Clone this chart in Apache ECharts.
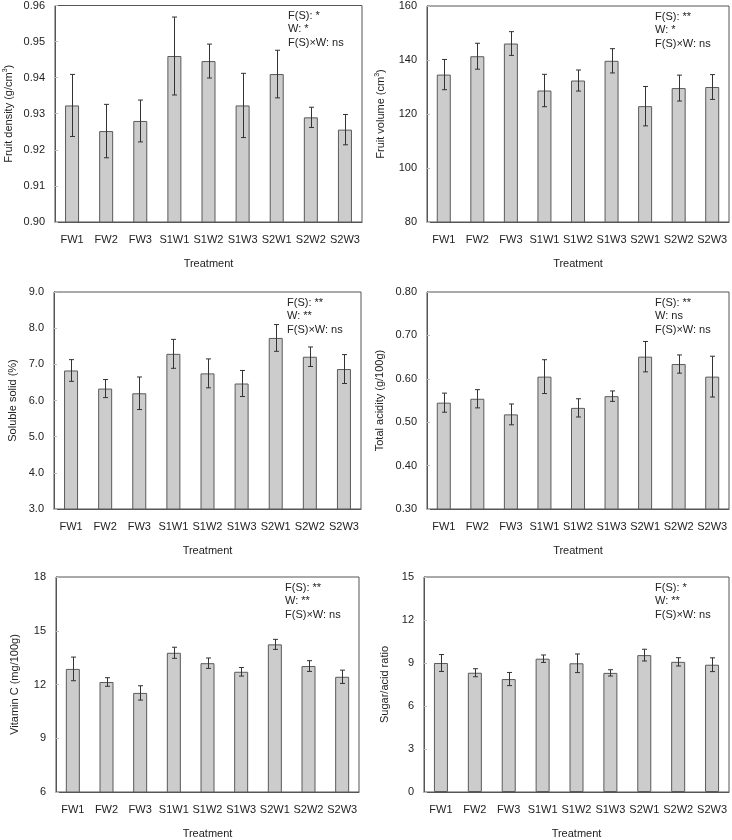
<!DOCTYPE html>
<html>
<head>
<meta charset="utf-8">
<script src="https://cdn.jsdelivr.net/npm/echarts@6/dist/echarts.min.js"></script>
<style>
html,body{margin:0;padding:0;background:#fff;}
#chart{width:732px;height:840px;}
</style>
</head>
<body>
<div id="chart"></div>
<script>
const categories = ['FW1','FW2','FW3','S1W1','S1W2','S1W3','S2W1','S2W2','S2W3'];

const densityMean = [0.9323,0.9252,0.9280,0.9460,0.9446,0.9323,0.9410,0.9290,0.9256];
const densityErr  = [0.0086,0.0074,0.0058,0.0108,0.0047,0.0089,0.0066,0.0028,0.0042];

const volumeMean = [134.6,141.4,146.1,128.7,132.4,139.7,122.9,129.6,130.0];
const volumeErr  = [5.6,4.8,4.4,6.0,3.9,4.5,7.3,4.8,4.6];

const solubleMean = [6.83,6.33,6.20,7.29,6.75,6.47,7.73,7.21,6.87];
const solubleErr  = [0.30,0.25,0.45,0.40,0.40,0.36,0.37,0.27,0.40];

const acidityMean = [0.545,0.554,0.518,0.605,0.533,0.560,0.651,0.634,0.605];
const acidityErr  = [0.022,0.021,0.024,0.039,0.021,0.012,0.035,0.021,0.047];

const vitCMean = [12.87,12.14,11.53,13.77,13.19,12.71,14.24,13.03,12.43];
const vitCErr  = [0.66,0.24,0.40,0.31,0.29,0.24,0.28,0.30,0.37];

const ratioMean = [9.00,8.32,7.88,9.30,8.98,8.31,9.55,9.08,8.88];
const ratioErr  = [0.59,0.28,0.46,0.26,0.65,0.22,0.41,0.29,0.48];

const yTitles = ['Fruit density (g/cm{sup|3})','Fruit volume (cm{sup|3})','Soluble solid (%)','Total acidity (g/100g)','Vitamin C (mg/100g)','Sugar/acid ratio'];
const yMin = [0.90, 80, 3, 0.30, 6, 0];
const yMax = [0.96, 160, 9, 0.80, 18, 15];
const yInterval = [0.01, 20, 1, 0.1, 3, 3];
const yDecimals = [2, 0, 1, 2, 0, 0];
const notes = [
  ['F(S): *','W: *','F(S)\u00d7W: ns'],
  ['F(S): **','W: *','F(S)\u00d7W: ns'],
  ['F(S): **','W: **','F(S)\u00d7W: ns'],
  ['F(S): **','W: ns','F(S)\u00d7W: ns'],
  ['F(S): **','W: **','F(S)\u00d7W: ns'],
  ['F(S): *','W: **','F(S)\u00d7W: ns']
];
const means = [densityMean, volumeMean, solubleMean, acidityMean, vitCMean, ratioMean];
const errs = [densityErr, volumeErr, solubleErr, acidityErr, vitCErr, ratioErr];

const grids = [
  {left:55, top:5, width:307, height:217},
  {left:427, top:6, width:302, height:216},
  {left:54, top:292, width:307, height:217},
  {left:427, top:292, width:302, height:217},
  {left:56, top:577, width:303, height:216},
  {left:424, top:577, width:305, height:216}
];
const nameGaps = [40, 40, 36, 42, 36, 34];

const FONT = 'Liberation Sans, Arial, sans-serif';
const chart = echarts.init(document.getElementById('chart'), null, {renderer:'canvas'});

const option = {
  backgroundColor:'#fff',
  animation:false,
  grid: grids.map(g => Object.assign({show:true, borderColor:'#555', borderWidth:1, backgroundColor:'transparent'}, g)),
  xAxis: grids.map((g,i) => ({
    type:'category', gridIndex:i, data:categories,
    name:'Treatment', nameLocation:'middle', nameGap:36,
    nameTextStyle:{fontFamily:FONT, fontSize:11, color:'#222'},
    axisLine:{lineStyle:{color:'#555'}},
    axisTick:{inside:true, length:3, lineStyle:{color:'#aaa'}},
    axisLabel:{fontFamily:FONT, fontSize:11, color:'#222', margin:12, interval:0}
  })),
  yAxis: grids.map((g,i) => ({
    type:'value', gridIndex:i, min:yMin[i], max:yMax[i], interval:yInterval[i],
    name:yTitles[i], nameLocation:'middle', nameGap:nameGaps[i], nameRotate:90,
    nameTextStyle:{fontFamily:FONT, fontSize:11, color:'#222', rich:{sup:{fontSize:7, fontFamily:FONT, color:'#222', padding:[0,0,6,0]}}},
    splitLine:{show:false},
    axisLine:{show:true, lineStyle:{color:'#555'}},
    axisTick:{show:true, inside:true, length:3, lineStyle:{color:'#bbb'}},
    axisLabel:{fontFamily:FONT, fontSize:11, color:'#222', margin:10,
      formatter: v => Number(v).toFixed(yDecimals[i])}
  })),
  series: [],
  graphic: []
};

grids.forEach((g,i) => {
  option.series.push({
    type:'bar', xAxisIndex:i, yAxisIndex:i, data:means[i], barWidth:14,
    itemStyle:{color:'#cccccc', borderColor:'#5a5a5a', borderWidth:1}
  });
  option.series.push({
    type:'custom', xAxisIndex:i, yAxisIndex:i,
    data: means[i].map((m,k) => [k, m - errs[i][k], m + errs[i][k]]),
    renderItem: function(params, api){
      const x = api.value(0);
      const lo = api.coord([x, api.value(1)]);
      const hi = api.coord([x, api.value(2)]);
      const cx = Math.round(lo[0]) + 0.5;
      const c = 2.5;
      const st = {stroke:'#333', lineWidth:1};
      return {type:'group', children:[
        {type:'line', shape:{x1:cx, y1:hi[1], x2:cx, y2:lo[1]}, style:st},
        {type:'line', shape:{x1:cx-c, y1:hi[1], x2:cx+c, y2:hi[1]}, style:st},
        {type:'line', shape:{x1:cx-c, y1:lo[1], x2:cx+c, y2:lo[1]}, style:st}
      ]};
    },
    z:5
  });
  option.graphic.push({
    type:'text',
    left: g.left + g.width - 74,
    top: g.top + 4,
    style:{text: notes[i].join('\n'), font:'11px Liberation Sans, Arial, sans-serif', fill:'#222', lineHeight:13.5}
  });
});

chart.setOption(option);
</script>
</body>
</html>
